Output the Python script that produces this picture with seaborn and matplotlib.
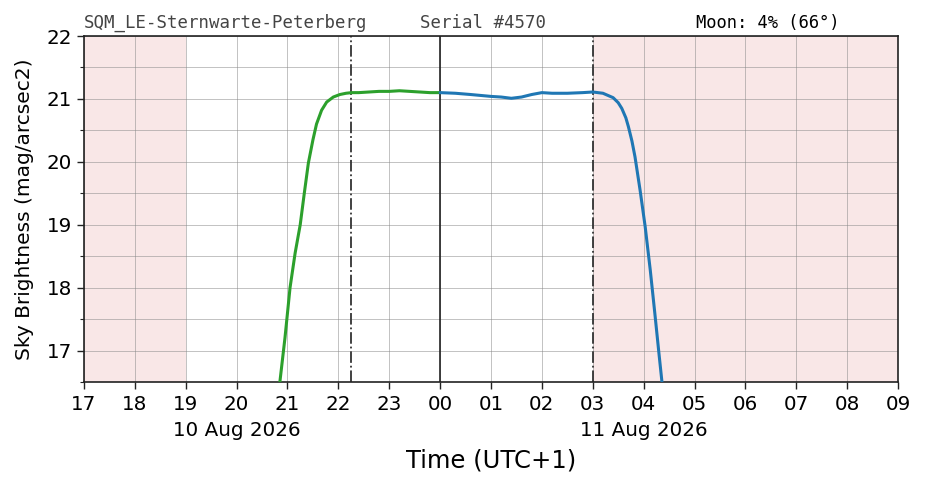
import numpy as np
import pandas as pd
import matplotlib
matplotlib.use('Agg')
import matplotlib.pyplot as plt
import seaborn as sns

# hours since midnight of 10 Aug 2026, sky brightness in mag/arcsec2
green_t = [20.85, 20.95, 21.05, 21.15, 21.25, 21.33, 21.41, 21.5, 21.57, 21.67,
           21.77, 21.9, 22.03, 22.15, 22.26, 22.4, 22.6, 22.8, 23.0, 23.2,
           23.4, 23.6, 23.8, 24.0]
green_v = [16.5, 17.2, 18.0, 18.55, 19.0, 19.5, 19.98, 20.35, 20.6, 20.82,
           20.95, 21.03, 21.07, 21.09, 21.1, 21.1, 21.11, 21.12, 21.12, 21.13,
           21.12, 21.11, 21.1, 21.1]
blue_t = [24.0, 24.3, 24.6, 25.0, 25.2, 25.4, 25.6, 25.8, 26.0, 26.2,
          26.5, 26.8, 27.0, 27.2, 27.4, 27.5, 27.57, 27.65, 27.7, 27.77,
          27.83, 27.93, 28.03, 28.13, 28.22, 28.3, 28.36]
blue_v = [21.1, 21.09, 21.07, 21.04, 21.03, 21.01, 21.03, 21.07, 21.1, 21.09,
          21.09, 21.1, 21.11, 21.09, 21.02, 20.94, 20.85, 20.7, 20.56, 20.33,
          20.08, 19.55, 18.97, 18.28, 17.59, 16.96, 16.5]

day_spans = [(17, 19), (27, 33)]
twilight_lines = [22.25, 27.0]
midnight = 24
hours = list(range(17, 34))
date_pos = [20, 28]
date_labels = ['10 Aug 2026', '11 Aug 2026']

sns.set_theme(style='ticks')
plt.rcParams['font.family'] = ['DejaVu Sans']

fig = plt.figure(figsize=(9.26, 4.88), dpi=100)
ax = fig.add_axes([0.0907, 0.2172, 0.8791, 0.709])

for a, b in day_spans:
    ax.axvspan(a, b, color='#e8a0a0', alpha=0.25, lw=0, zorder=0)

green = pd.DataFrame({'t': green_t, 'v': green_v})
blue = pd.DataFrame({'t': blue_t, 'v': blue_v})
sns.lineplot(data=green, x='t', y='v', color='#2ca02c', lw=2.2, ax=ax, zorder=3)
sns.lineplot(data=blue, x='t', y='v', color='#1f77b4', lw=2.2, ax=ax, zorder=3)

for x in twilight_lines:
    ax.axvline(x, color='#333333', ls='-.', lw=1.3, zorder=2)
ax.axvline(midnight, color='#222222', ls='-', lw=1.2, zorder=2)

ax.set_xlim(17, 33)
ax.set_ylim(16.5, 22)
ax.set_xticks(hours)
ax.set_xticklabels([f'{h % 24:02d}' for h in hours])
ax.set_yticks(range(17, 23))
ax.set_yticks(np.arange(16.5, 22.01, 0.5), minor=True)
ax.tick_params(labelsize=14.3, labelcolor='black')
ax.tick_params(axis='x', pad=4)
ax.tick_params(which='major', length=5, width=1, color='#222222')
ax.tick_params(which='minor', length=3, width=0.8, color='#222222')
ax.grid(True, which='both', color='#888888', lw=0.6, alpha=0.6)
for s in ax.spines.values():
    s.set_color('#222222')
    s.set_linewidth(1.2)

for p, lab in zip(date_pos, date_labels):
    ax.text(p, -0.139, lab, transform=ax.get_xaxis_transform(), ha='center',
            va='center', fontsize=14.3, color='black')

ax.set_xlabel('Time (UTC+1)', fontsize=17.5, color='black', labelpad=25)
ax.set_ylabel('Sky Brightness (mag/arcsec2)', fontsize=14.5, color='black', labelpad=9)

fig.text(84 / 926, 1 - 28 / 488, 'SQM_LE-Sternwarte-Peterberg', family='DejaVu Sans Mono',
         fontsize=12.5, color='#444444', va='baseline')
fig.text(420 / 926, 1 - 28 / 488, 'Serial #4570', family='DejaVu Sans Mono',
         fontsize=12.5, color='#444444', va='baseline')
fig.text(696 / 926, 1 - 28 / 488, 'Moon: 4% (66°)', family='DejaVu Sans Mono',
         fontsize=12.3, color='black', va='baseline')

fig.savefig('out.png', dpi=100)
